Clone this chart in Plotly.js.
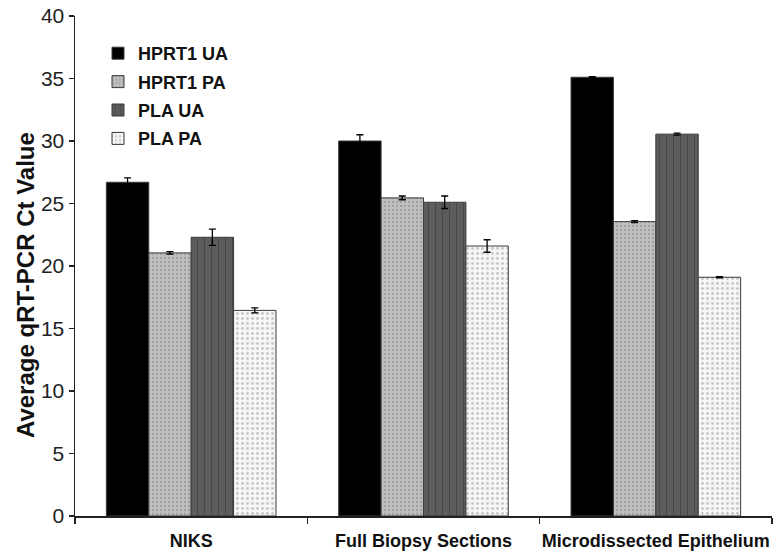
<!DOCTYPE html>
<html>
<head>
<meta charset="utf-8">
<script src="https://cdn.plot.ly/plotly-3.0.1.min.js"></script>
<style>html,body{margin:0;padding:0;background:#fff;}#chart{width:774px;height:553px;}</style>
</head>
<body>
<div id="chart"></div>
<script>
var categories = ["NIKS", "Full Biopsy Sections", "Microdissected Epithelium"];
var seriesNames = ["HPRT1 UA", "HPRT1 PA", "PLA UA", "PLA PA"];
var hprt1UA = [26.7, 30.0, 35.1];
var hprt1UAErr = [0.35, 0.5, 0.05];
var hprt1PA = [21.05, 25.45, 23.55];
var hprt1PAErr = [0.1, 0.15, 0.08];
var plaUA = [22.3, 25.1, 30.55];
var plaUAErr = [0.65, 0.5, 0.08];
var plaPA = [16.45, 21.6, 19.1];
var plaPAErr = [0.2, 0.5, 0.05];
var yTicks = [0, 5, 10, 15, 20, 25, 30, 35, 40];
var yTitle = "Average qRT-PCR Ct Value";

var values = [hprt1UA, hprt1PA, plaUA, plaPA];
var errs = [hprt1UAErr, hprt1PAErr, plaUAErr, plaPAErr];
var styles = [
  {color: "#000000", pattern: {shape: ""}},
  {color: "#bdbdbd", pattern: {shape: ".", bgcolor: "#c0c0c0", fgcolor: "#9e9e9e", size: 4, solidity: 0.25}},
  {color: "#595959", pattern: {shape: "|", bgcolor: "#5c5c5c", fgcolor: "#474747", size: 7, solidity: 0.15}},
  {color: "#f3f3f3", pattern: {shape: ".", bgcolor: "#f6f6f6", fgcolor: "#c6c6c6", size: 5, solidity: 0.25}}
];

var traces = seriesNames.map(function (name, i) {
  return {
    type: "bar",
    name: "<b>" + name + "</b>",
    x: categories,
    y: values[i],
    legendgroup: "g" + i,
    marker: {
      color: styles[i].color,
      pattern: styles[i].pattern,
      line: {color: "#3a3a3a", width: 1}
    },
    error_y: {type: "data", array: errs[i], visible: true, color: "#000", thickness: 1.3, width: 3.5}
  };
});

var layout = {
  width: 774,
  height: 553,
  margin: {l: 75, r: 2, t: 16, b: 37},
  paper_bgcolor: "#ffffff",
  plot_bgcolor: "#ffffff",
  barmode: "group",
  bargap: 0.27,
  bargroupgap: 0,
  showlegend: true,
  legend: {
    x: 0.033, y: 0.962, xanchor: "left", yanchor: "top",
    bgcolor: "rgba(0,0,0,0)",
    font: {family: "Liberation Sans, Arial, sans-serif", size: 18, color: "#111"},
    tracegroupgap: 2,
    itemwidth: 30
  },
  font: {family: "Liberation Sans, Arial, sans-serif", color: "#222"},
  xaxis: {
    type: "category",
    showline: true, linecolor: "#222", linewidth: 1.5,
    ticks: "outside", tickson: "boundaries", ticklen: 6, tickcolor: "#222", tickwidth: 1.2,
    tickangle: 0,
    ticklabelstandoff: 8,
    tickfont: {family: "Liberation Sans, Arial, sans-serif", size: 18, color: "#111", weight: "bold"},
    showgrid: false, zeroline: false
  },
  yaxis: {
    range: [0, 40],
    tickvals: yTicks,
    showline: true, linecolor: "#222", linewidth: 1.5,
    ticks: "outside", ticklen: 5, tickcolor: "#222", tickwidth: 1.2,
    tickfont: {family: "Liberation Sans, Arial, sans-serif", size: 21, color: "#222"},
    showgrid: false, zeroline: false
  },
  annotations: [{
    text: "<b>" + yTitle + "</b>",
    xref: "paper", yref: "paper",
    x: -0.0717, y: 0.462, xanchor: "center", yanchor: "middle",
    textangle: -90, showarrow: false,
    font: {family: "Liberation Sans, Arial, sans-serif", size: 24, color: "#111"}
  }]
};

Plotly.newPlot("chart", traces, layout, {displayModeBar: false, staticPlot: true});
</script>
</body>
</html>
